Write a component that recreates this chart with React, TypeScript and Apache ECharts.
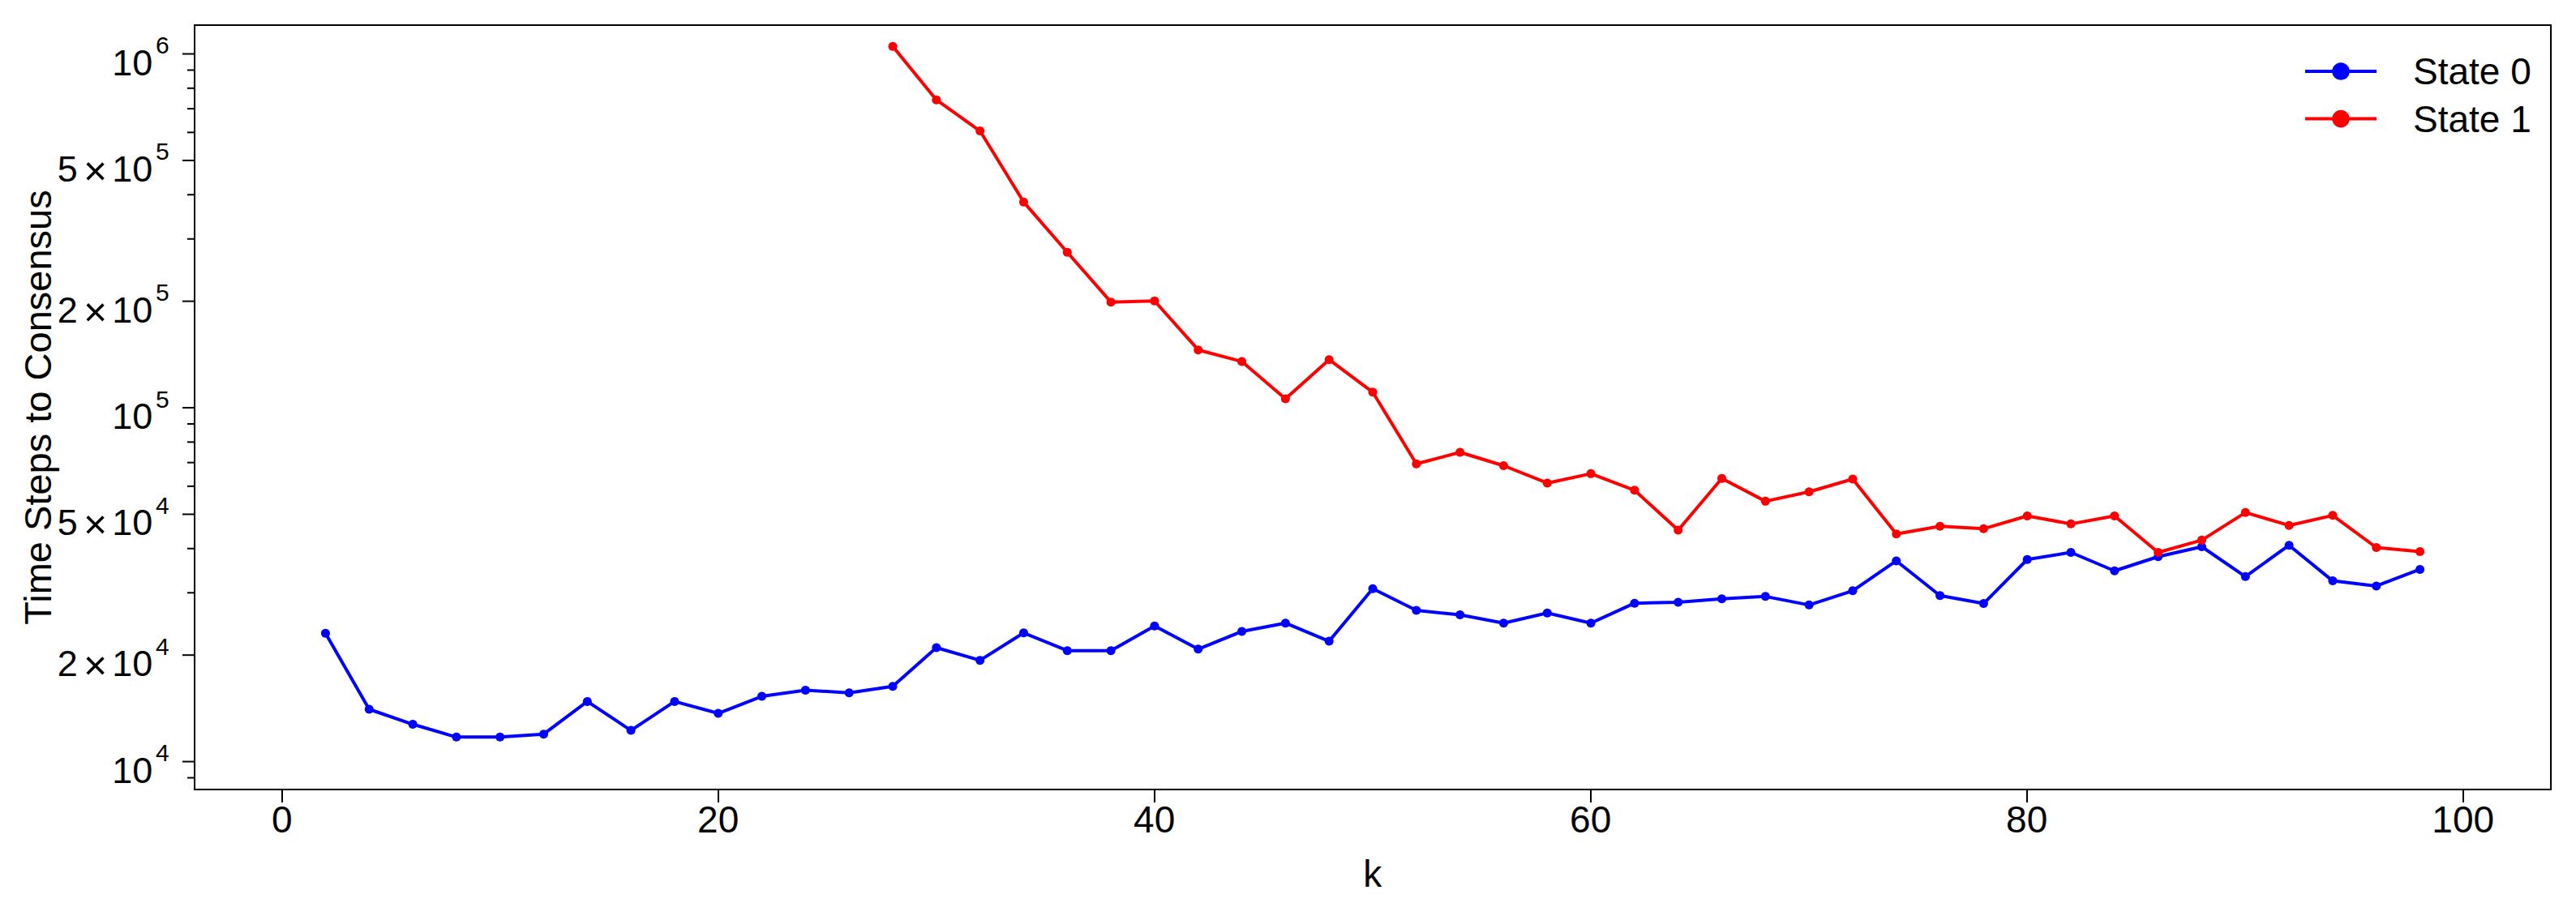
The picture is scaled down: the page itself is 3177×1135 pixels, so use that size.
import React, { useEffect, useRef } from "react";
import * as echarts from "echarts";

// ---- data ----
const K_STATE0 = [
  2, 4, 6, 8, 10, 12, 14, 16, 18, 20, 22, 24, 26, 28, 30, 32, 34, 36, 38, 40,
  42, 44, 46, 48, 50, 52, 54, 56, 58, 60, 62, 64, 66, 68, 70, 72, 74, 76, 78, 80,
  82, 84, 86, 88, 90, 92, 94, 96, 98,
];
const STATE0 = [
  23060, 14060, 12750, 11730, 11730, 11960, 14790, 12250, 14790, 13690,
  15290, 15920, 15650, 16310, 20990, 19330, 23110, 20590, 20590, 24170,
  20790, 23330, 24630, 21890, 30810, 26750, 25990, 24630, 26300, 24630,
  28030, 28200, 28860, 29290, 27710, 30400, 36920, 29460, 27970, 37250,
  39020, 34600, 37950, 40480, 33340, 40870, 32420, 31360, 34930,
];
const K_STATE1 = [
  28, 30, 32, 34, 36, 38, 40, 42, 44, 46, 48, 50, 52, 54, 56, 58, 60, 62, 64, 66,
  68, 70, 72, 74, 76, 78, 80, 82, 84, 86, 88, 90, 92, 94, 96, 98,
];
const STATE1 = [
  1050000, 741500, 605700, 381500, 275000, 198900, 200400, 145700, 135100, 106000,
  136800, 110700, 69410, 74850, 68600, 61270, 65120, 58460, 45110, 63140,
  54430, 57880, 62890, 44000, 46270, 45500, 49460, 46960, 49460, 39020,
  42260, 50560, 46510, 49640, 40270, 39240,
];
const SERIES_NAMES = ["State 0", "State 1"];
const X_TICKS = [0, 20, 40, 60, 80, 100];
const Y_MAJOR = [1e4, 2e4, 5e4, 1e5, 2e5, 5e5, 1e6];
const Y_MINOR = [9e3, 3e4, 4e4, 6e4, 7e4, 8e4, 9e4, 3e5, 4e5, 6e5, 7e5, 8e5, 9e5];
const X_MIN = -4;
const X_MAX = 104;
const Y_MIN = 8340;
const Y_MAX = 1206000;
const X_TITLE = "k";
const Y_TITLE = "Time Steps to Consensus";

const FONT = "'Liberation Sans', Arial, Helvetica, sans-serif";

export default function App() {
  const ref = useRef<HTMLDivElement>(null);
  useEffect(() => {
    document.body.style.margin = "0";
    if (!ref.current) return;
    const chart = echarts.init(ref.current, undefined, { renderer: "svg" });

    const tickData = [
      ...Y_MAJOR.map((v) => [X_MIN, v, 1]),
      ...Y_MINOR.map((v) => [X_MIN, v, 0]),
    ];

    const txt = (text: string, x: number, y: number, size: number) => ({
      type: "text",
      x,
      y,
      silent: true,
      style: {
        text,
        fontSize: size,
        fontFamily: FONT,
        fill: "#000",
        align: "left",
        textAlign: "left",
        verticalAlign: "middle",
        textVerticalAlign: "middle",
      },
    });

    const legendText = { fontSize: 46, fontFamily: FONT, color: "#000", padding: [0, 0, 0, 40] };

    const option: any = {
      animation: false,
      backgroundColor: "#fff",
      grid: [
        {
          left: 240,
          top: 31,
          width: 2906,
          height: 943,
          show: true,
          borderColor: "#000",
          borderWidth: 2,
          backgroundColor: "transparent",
        },
        {
          left: 347.7,
          top: 31,
          width: 2690,
          height: 943,
          show: false,
        },
      ],
      xAxis: [
        {
          gridIndex: 0,
          type: "value",
          min: X_MIN,
          max: X_MAX,
          show: false,
        },
        {
          gridIndex: 1,
          type: "value",
          min: X_TICKS[0],
          max: X_TICKS[X_TICKS.length - 1],
          interval: X_TICKS[1] - X_TICKS[0],
          position: "bottom",
          axisLine: { show: false },
          axisTick: { show: true, length: 16, lineStyle: { color: "#000", width: 2 } },
          axisLabel: { show: true, fontSize: 46, fontFamily: FONT, color: "#000", margin: 14 },
          splitLine: { show: false },
          name: X_TITLE,
          nameLocation: "middle",
          nameGap: 81,
          nameTextStyle: { fontSize: 46, fontFamily: FONT, color: "#000" },
        },
      ],
      yAxis: [
        {
          gridIndex: 0,
          type: "log",
          logBase: 10,
          min: Y_MIN,
          max: Y_MAX,
          axisLine: { show: false },
          axisTick: { show: false },
          axisLabel: { show: false },
          splitLine: { show: false },
          name: Y_TITLE,
          nameLocation: "middle",
          nameGap: 170,
          nameTextStyle: { fontSize: 47, fontFamily: FONT, color: "#000" },
        },
        {
          gridIndex: 1,
          type: "value",
          show: false,
        },
      ],
      legend: [
        {
          data: [SERIES_NAMES[0]],
          left: 2841,
          top: 65,
          padding: 0,
          itemWidth: 88,
          itemHeight: 27,
          lineStyle: { width: 4 },
          textStyle: legendText,
        },
        {
          data: [SERIES_NAMES[1]],
          left: 2841,
          top: 123.6,
          padding: 0,
          itemWidth: 88,
          itemHeight: 27,
          lineStyle: { width: 4 },
          textStyle: legendText,
        },
      ],
      series: [
        {
          name: SERIES_NAMES[0],
          type: "line",
          xAxisIndex: 0,
          yAxisIndex: 0,
          data: K_STATE0.map((k, i) => [k, STATE0[i]]),
          symbol: "circle",
          symbolSize: 11,
          showSymbol: true,
          color: "#0000ff",
          lineStyle: { color: "#0000ff", width: 4 },
          itemStyle: { color: "#0000ff" },
        },
        {
          name: SERIES_NAMES[1],
          type: "line",
          xAxisIndex: 0,
          yAxisIndex: 0,
          data: K_STATE1.map((k, i) => [k, STATE1[i]]),
          symbol: "circle",
          symbolSize: 11,
          showSymbol: true,
          color: "#ff0000",
          lineStyle: { color: "#ff0000", width: 4 },
          itemStyle: { color: "#ff0000" },
        },
        {
          type: "custom",
          name: "yticks",
          xAxisIndex: 0,
          yAxisIndex: 0,
          silent: true,
          clip: false,
          encode: { x: 0, y: 1 },
          data: tickData,
          renderItem: (params: any, api: any) => {
            const v = api.value(1);
            const major = api.value(2) === 1;
            const px = params.coordSys.x;
            const py = api.coord([X_MIN, v])[1];
            const children: any[] = [
              {
                type: "line",
                silent: true,
                shape: { x1: px - (major ? 15 : 9), y1: py, x2: px, y2: py },
                style: { stroke: "#000", lineWidth: 2 },
              },
            ];
            if (major) {
              const exp = Math.floor(Math.log10(v) + 1e-9);
              const coef = Math.round(v / Math.pow(10, exp));
              children.push(txt("10", px - 101.7, py + 10.5, 45));
              children.push(txt(String(exp), px - 48, py - 11, 30));
              if (coef !== 1) {
                children.push(txt("\u00d7", px - 137, py + 13, 50));
                children.push(txt(String(coef), px - 169.3, py + 10.5, 45));
              }
            }
            return { type: "group", children };
          },
        },
      ],
    };
    chart.setOption(option);
    return () => chart.dispose();
  }, []);
  return <div ref={ref} style={{ width: 3177, height: 1135 }} />;
}
